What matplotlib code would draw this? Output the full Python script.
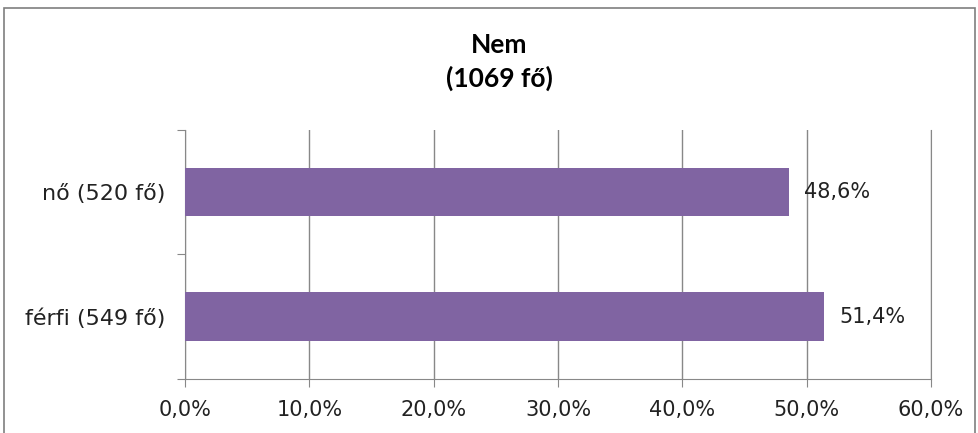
import matplotlib.pyplot as plt
from matplotlib.patches import Rectangle

categories = ['férfi (549 fő)', 'nő (520 fő)']
values = [51.4, 48.6]
value_labels = ['51,4%', '48,6%']
xticks = [0, 10, 20, 30, 40, 50, 60]
xtick_labels = ['0,0%', '10,0%', '20,0%', '30,0%', '40,0%', '50,0%', '60,0%']

fig = plt.figure(figsize=(9.79, 4.33), dpi=100)
ax = fig.add_axes([0.189, 0.125, 0.762, 0.575])

# outer chart border
fig.patches.append(Rectangle((0.004, -0.01), 0.992, 0.992, transform=fig.transFigure,
                             fill=False, edgecolor='#7f7f7f', linewidth=1.2))

ax.barh(range(len(categories)), values, height=0.39, color='#8064A2', zorder=3)
for i, (v, lab) in enumerate(zip(values, value_labels)):
    ax.text(v + 1.2, i, lab, va='center', ha='left', fontsize=15, color='#222222')

ax.set_xlim(0, 60)
ax.set_ylim(-0.5, 1.5)
ax.set_xticks(xticks)
ax.set_xticklabels(xtick_labels, fontsize=15, color='#222222')
ax.set_yticks([-0.5, 0.5, 1.5])
ax.set_yticklabels([])
ax.set_yticks(range(len(categories)), minor=True)
ax.set_yticklabels(categories, minor=True, fontsize=16, color='#222222')
ax.tick_params(axis='y', which='minor', length=0, pad=14)
ax.tick_params(axis='y', which='major', length=6, color='#888888', direction='out')
ax.tick_params(axis='x', length=6, color='#888888', direction='out', pad=9)

ax.grid(axis='x', color='#888888', linewidth=1.0, zorder=0)
ax.spines['top'].set_visible(False)
for s in ['left', 'bottom', 'right']:
    ax.spines[s].set_color('#888888')

fig.text(0.51, 0.895, 'Nem', ha='center', va='center', fontsize=19, fontweight='bold', family='Lato')
fig.text(0.51, 0.818, '(1069 fő)', ha='center', va='center', fontsize=19, fontweight='bold', family='Lato')

fig.savefig('out.png', dpi=100)
